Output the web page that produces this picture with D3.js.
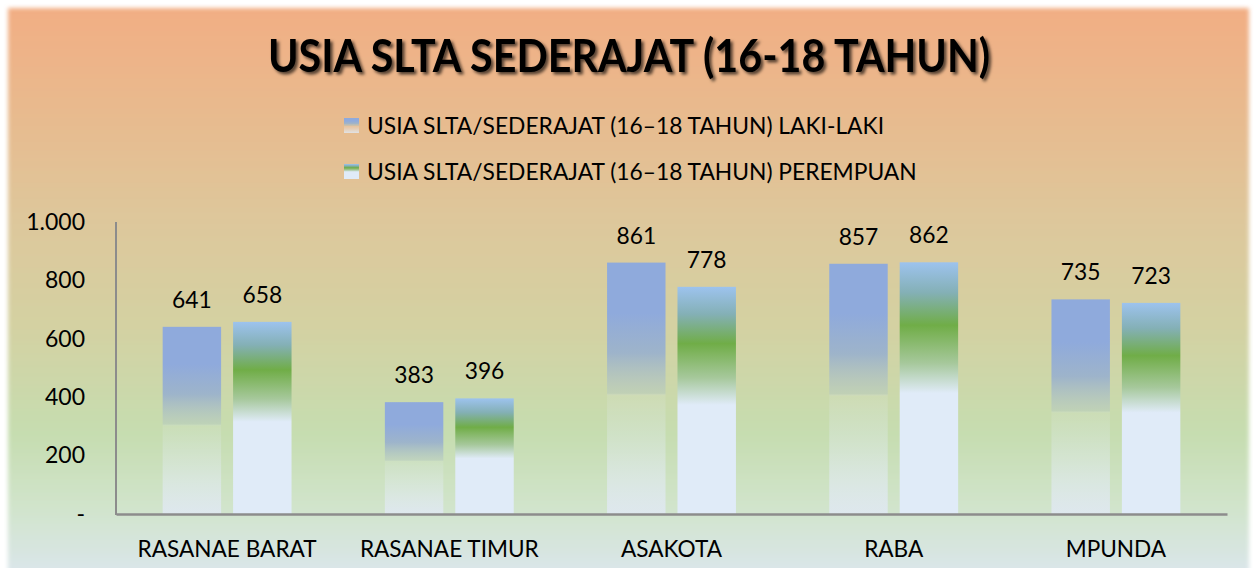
<!DOCTYPE html>
<html>
<head>
<meta charset="utf-8">
<script src="https://cdn.jsdelivr.net/npm/d3@7"></script>
<style>
  html, body { margin: 0; padding: 0; background: #ffffff; }
  svg { display: block; }
  text { font-family: Lato, "Open Sans", sans-serif; fill: #000; }
</style>
</head>
<body>
<svg id="chart" width="1256" height="568"></svg>
<script>
const categories = ["RASANAE BARAT", "RASANAE TIMUR", "ASAKOTA", "RABA", "MPUNDA"];
const seriesNames = ["USIA SLTA/SEDERAJAT (16\u201318 TAHUN) LAKI-LAKI", "USIA SLTA/SEDERAJAT (16\u201318 TAHUN) PEREMPUAN"];
const lakiLaki = [641, 383, 861, 857, 735];
const perempuan = [658, 396, 778, 862, 723];
const yTicks = [0, 200, 400, 600, 800, 1000];
const yTickLabels = ["-", "200", "400", "600", "800", "1.000"];
const title = "USIA SLTA SEDERAJAT (16-18 TAHUN)";

const svg = d3.select("#chart");
const defs = svg.append("defs");

// background gradient
const bg = defs.append("linearGradient").attr("id", "bgGrad").attr("x1", 0).attr("y1", 0).attr("x2", 0).attr("y2", 1);
[[0, "#F2AE84"], [0.18, "#E8BA8E"], [0.38, "#DDC89C"], [0.55, "#D4D1A2"], [0.74, "#C6DDB0"], [0.87, "#D1E4CC"], [1, "#DCE6EF"]]
  .forEach(([o, c]) => bg.append("stop").attr("offset", o).attr("stop-color", c));

const soft = defs.append("filter").attr("id", "soft").attr("x", "-2%").attr("y", "-2%").attr("width", "104%").attr("height", "104%");
soft.append("feGaussianBlur").attr("stdDeviation", 2.2);

const shadow = defs.append("filter").attr("id", "shadow").attr("x", "-5%").attr("y", "-20%").attr("width", "110%").attr("height", "150%");
shadow.append("feDropShadow").attr("dx", 2.5).attr("dy", 2.5).attr("stdDeviation", 1.6).attr("flood-color", "#000").attr("flood-opacity", 0.65);

// bar gradients
const gL = defs.append("linearGradient").attr("id", "gradL").attr("x1", 0).attr("y1", 0).attr("x2", 0).attr("y2", 1);
[[0, "#8FAADC", 1], [0.2, "#8FAADC", 1], [0.36, "#9BB2CC", 0.95], [0.52, "#B3C6C2", 0.45], [0.53, "#E4ECF6", 0.12], [0.75, "#E4ECF6", 0.4], [1, "#E0E8F3", 0.85]]
  .forEach(([o, c, a]) => gL.append("stop").attr("offset", o).attr("stop-color", c).attr("stop-opacity", a));

const gP = defs.append("linearGradient").attr("id", "gradP").attr("x1", 0).attr("y1", 0).attr("x2", 0).attr("y2", 1);
[[0, "#9DC3EE"], [0.12, "#84B0B6"], [0.25, "#70AD47"], [0.4, "#A6C89B"], [0.52, "#E0EBF8"], [1, "#E0EBF8"]]
  .forEach(([o, c]) => gP.append("stop").attr("offset", o).attr("stop-color", c));

const gradIds = ["gradL", "gradP"];

// background
svg.append("rect").attr("x", 8).attr("y", 8).attr("width", 1241).attr("height", 575)
  .attr("fill", "url(#bgGrad)").attr("filter", "url(#soft)");

// title
svg.append("text").attr("x", 629).attr("y", 72).attr("text-anchor", "middle")
  .attr("font-size", 45).attr("font-weight", "bold").attr("filter", "url(#shadow)")
  .attr("textLength", 722).attr("lengthAdjust", "spacingAndGlyphs").text(title);

// legend
const legendY = [126, 172];
seriesNames.forEach((name, i) => {
  const g = svg.append("g").attr("transform", `translate(344,${legendY[i]})`);
  g.append("rect").attr("x", 0).attr("y", -8).attr("width", 15).attr("height", 15).attr("fill", `url(#${gradIds[i]})`);
  g.append("text").attr("x", 23).attr("y", 0).attr("dy", "0.36em").attr("font-size", 22.8).text(name);
});

// scales
const plot = { left: 116, right: 1227, top: 222, bottom: 514 };
const x0 = d3.scaleBand().domain(categories).range([plot.left, plot.right]).paddingInner(0.42).paddingOuter(0.21);
const x1 = d3.scaleBand().domain([0, 1]).range([0, x0.bandwidth()]).paddingInner(0.17);
const y = d3.scaleLinear().domain([0, 1000]).range([plot.bottom, plot.top]);

// y axis labels
const yAxis = d3.axisLeft(y).tickValues(yTicks).tickSize(0).tickPadding(0)
  .tickFormat((d, i) => yTickLabels[i]);
const yg = svg.append("g").attr("transform", `translate(85,0)`).call(yAxis);
yg.select(".domain").remove();
yg.selectAll("text").attr("font-size", 23).attr("font-family", "Lato, sans-serif").attr("fill", "#000");

// bars
const data = categories.map((c, i) => ({ cat: c, vals: [lakiLaki[i], perempuan[i]] }));
const groups = svg.append("g").selectAll("g").data(data).join("g")
  .attr("transform", d => `translate(${x0(d.cat)},0)`);
groups.selectAll("rect").data(d => d.vals.map((v, k) => ({ v, k }))).join("rect")
  .attr("x", d => x1(d.k)).attr("width", x1.bandwidth())
  .attr("y", d => y(d.v)).attr("height", d => y(0) - y(d.v))
  .attr("fill", d => `url(#${gradIds[d.k]})`);
groups.selectAll("text.val").data(d => d.vals.map((v, k) => ({ v, k }))).join("text")
  .attr("class", "val").attr("text-anchor", "middle")
  .attr("x", d => x1(d.k) + x1.bandwidth() / 2).attr("y", d => y(d.v) - 19)
  .attr("font-size", 22.8).text(d => d3.format(",")(d.v).replace(/,/g, "."));

// axis lines
svg.append("line").attr("x1", plot.left).attr("x2", plot.left).attr("y1", plot.top).attr("y2", plot.bottom + 1)
  .attr("stroke", "#8C8C8C").attr("stroke-width", 2);
const xAxis = d3.axisBottom(x0).tickSize(0).tickPadding(0);
const xg = svg.append("g").attr("transform", `translate(0,${plot.bottom})`).call(xAxis);
xg.select(".domain").attr("stroke", "#8C8C8C").attr("stroke-width", 2.5);
xg.selectAll("text").attr("font-size", 22.6).attr("font-family", "Lato, sans-serif").attr("fill", "#000")
  .attr("y", 43).attr("dy", 0);
</script>
</body>
</html>
